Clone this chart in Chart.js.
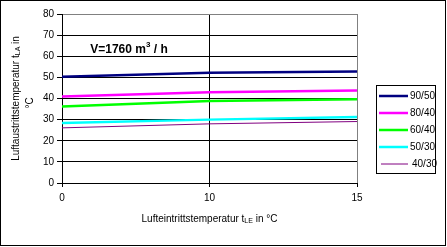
<!DOCTYPE html>
<html>
<head>
<meta charset="utf-8">
<script src="https://cdn.jsdelivr.net/npm/chart.js@4/dist/chart.umd.min.js"></script>
<style>
  body { margin: 0; background: #fff; }
  canvas { display: block; }
</style>
</head>
<body>
<canvas id="chart" width="447" height="247"></canvas>
<script>
"use strict";

// air inlet temperature categories (°C)
const categories = ['0', '10', '15'];

// air outlet temperature per flow/return temperature pair
const series_names = ['90/50', '80/40', '60/40', '50/30', '40/30'];
const t_90_50 = [50.3, 52.2, 52.8];
const t_80_40 = [41.0, 43.0, 43.8];
const t_60_40 = [36.2, 38.8, 39.6];
const t_50_30 = [28.4, 30.0, 31.2];
const t_40_30 = [26.1, 28.0, 29.1];

const y_ticks = [0, 10, 20, 30, 40, 50, 60, 70, 80];

const colors = ['#000080', '#ff00ff', '#00ff00', '#00ffff', '#800080'];
const widths = [2.5, 2.5, 2.5, 2.5, 1];

const font_family = "'Liberation Sans', Arial, sans-serif";

// draw a run of text pieces (normal / subscript / superscript) centered on x
function draw_runs(ctx, runs, x, y) {
  var total = 0;
  runs.forEach(r => {
    ctx.font = r.font;
    total += ctx.measureText(r.text).width;
  });
  var cx = x - total / 2;
  ctx.textAlign = 'left';
  ctx.textBaseline = 'middle';
  runs.forEach(r => {
    ctx.font = r.font;
    ctx.fillText(r.text, cx, y + (r.dy || 0));
    cx += ctx.measureText(r.text).width;
  });
}

const overlay = {
  id: 'overlay',
  afterDraw(chart) {
    const ctx = chart.ctx;
    const area = chart.chartArea;
    ctx.save();
    ctx.fillStyle = '#000';

    // outer frame
    ctx.strokeStyle = '#000';
    ctx.lineWidth = 1;
    ctx.strokeRect(0.5, 0.5, 445, 245);

    // flow annotation
    draw_runs(ctx, [
      { text: 'V=1760 m', font: 'bold 12px ' + font_family },
      { text: '3', font: 'bold 8px ' + font_family, dy: -5 },
      { text: ' / h', font: 'bold 12px ' + font_family },
    ], 129, 49.5);

    // x axis title
    draw_runs(ctx, [
      { text: 'Lufteintrittstemperatur t', font: '10px ' + font_family },
      { text: 'LE', font: '7px ' + font_family, dy: 2 },
      { text: ' in °C', font: '10px ' + font_family },
    ], (area.left + area.right) / 2, 219);

    // y axis title, two lines rotated
    ctx.save();
    ctx.translate(16, (area.top + area.bottom) / 2);
    ctx.rotate(-Math.PI / 2);
    draw_runs(ctx, [
      { text: 'Luftaustrittstemperatur t', font: '10px ' + font_family },
      { text: 'LA', font: '7px ' + font_family, dy: 2 },
      { text: ' in', font: '10px ' + font_family },
    ], 0, 0);
    ctx.restore();
    ctx.save();
    ctx.translate(30.5, 103);
    ctx.rotate(-Math.PI / 2);
    draw_runs(ctx, [{ text: '°C', font: '10px ' + font_family }], 0, 0);
    ctx.restore();

    // legend box
    ctx.fillStyle = '#fff';
    ctx.fillRect(376, 85, 59, 88);
    ctx.strokeStyle = '#000';
    ctx.strokeRect(376.5, 85.5, 59, 88);
    ctx.font = '10px ' + font_family;
    ctx.textAlign = 'left';
    ctx.textBaseline = 'middle';
    chart.data.datasets.forEach((ds, i) => {
      const y = 96 + i * 17;
      ctx.beginPath();
      ctx.strokeStyle = ds.borderColor;
      ctx.lineWidth = ds.borderWidth;
      ctx.moveTo(ds.borderWidth < 2 ? 381 : 379, y);
      ctx.lineTo(408, y);
      ctx.stroke();
      ctx.fillStyle = '#000';
      ctx.fillText(ds.label, ds.borderWidth < 2 ? 412 : 410, y);
    });

    ctx.restore();
  }
};

const values = [t_90_50, t_80_40, t_60_40, t_50_30, t_40_30];

var chart = new Chart(document.getElementById('chart'), {
  type: 'line',
  data: {
    labels: categories,
    datasets: series_names.map((name, i) => ({
      label: name,
      data: values[i],
      borderColor: colors[i],
      backgroundColor: colors[i],
      borderWidth: widths[i],
      pointRadius: 0,
      tension: 0,
      fill: false,
    })),
  },
  options: {
    responsive: false,
    animation: false,
    devicePixelRatio: 1,
    layout: {
      padding: { left: 0, right: 90, top: 14, bottom: 0 },
    },
    plugins: {
      legend: { display: false },
      tooltip: { enabled: false },
    },
    scales: {
      x: {
        type: 'category',
        offset: false,
        afterFit: (s) => { s.height = 64; },
        grid: {
          color: (c) => c.index === 2 ? '#808080' : '#000',
          tickColor: '#000',
          tickLength: 4,
          lineWidth: 1,
        },
        border: { color: '#000', width: 1 },
        ticks: {
          color: '#000',
          font: { family: font_family, size: 10 },
          padding: 5,
          maxRotation: 0,
        },
      },
      y: {
        min: 0,
        max: 80,
        afterFit: (s) => { s.width = 62; },
        afterBuildTicks: (s) => { s.ticks = y_ticks.map(v => ({ value: v })); },
        grid: {
          color: (c) => c.tick && c.tick.value === 80 ? '#808080' : '#000',
          tickColor: '#000',
          tickLength: 5,
          lineWidth: 1,
        },
        border: { color: '#000', width: 1 },
        ticks: {
          color: '#000',
          font: { family: font_family, size: 10 },
          padding: 3,
        },
      },
    },
  },
  plugins: [overlay],
});
</script>
</body>
</html>
